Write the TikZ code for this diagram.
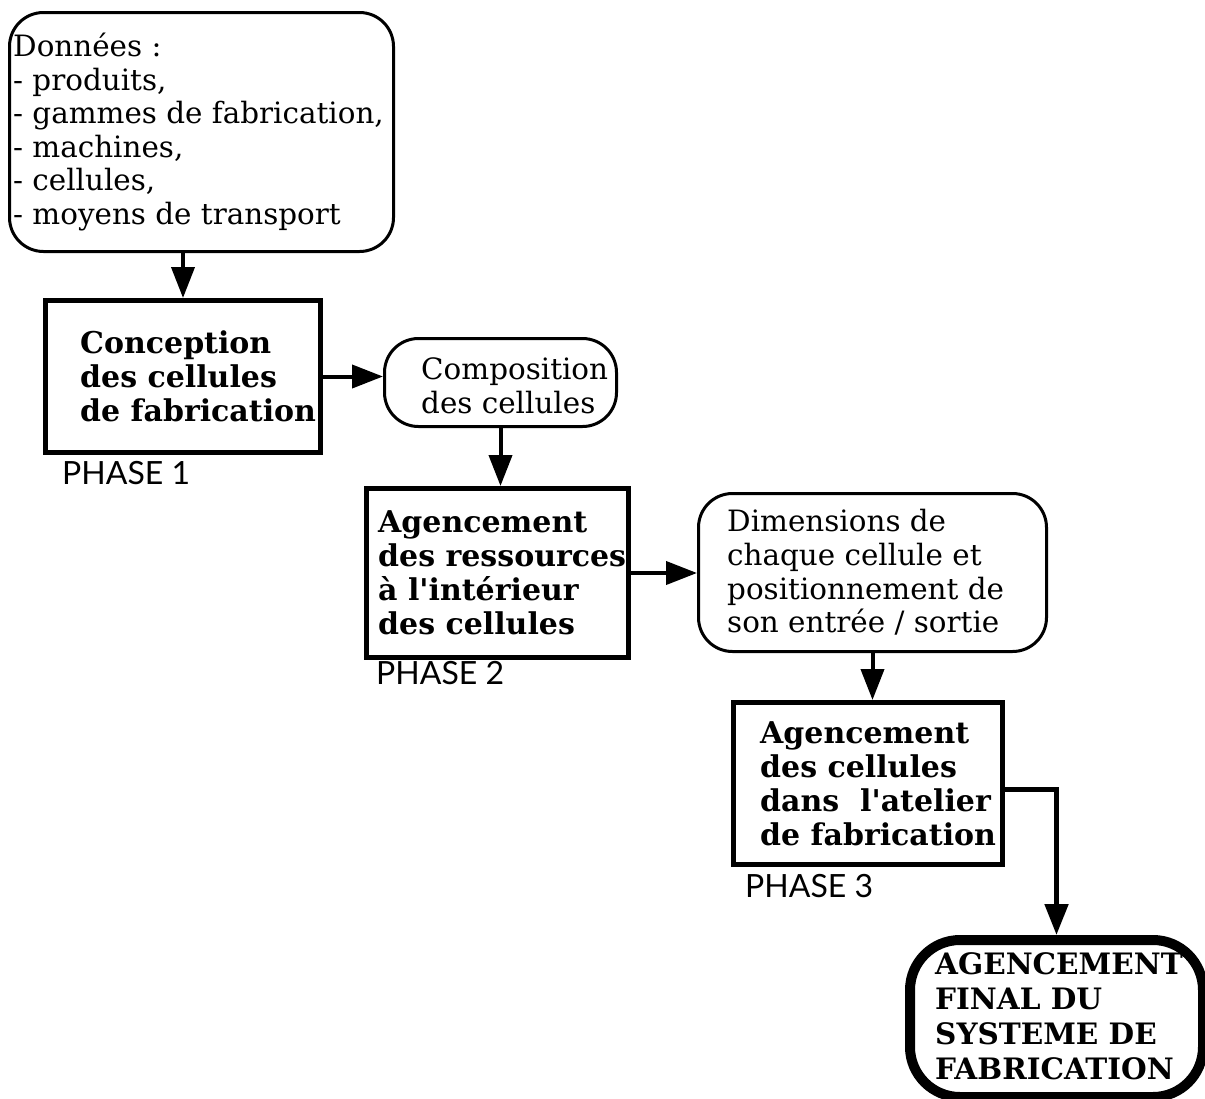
\documentclass[tikz,border=0pt]{standalone}
\usepackage{fontspec}
\newfontfamily\regfont{DejaVu Serif}
\newfontfamily\phasefont{Lato}
\usetikzlibrary{arrows.meta}

\tikzset{
  databox/.style={draw, line width=3pt, rounded corners=34pt, anchor=north west,
    inner sep=0pt},
  phasebox/.style={draw, line width=5pt, anchor=north west, inner sep=0pt},
  finalbox/.style={draw, line width=10pt, rounded corners=50pt, anchor=north west,
    inner sep=0pt},
  datatext/.style={anchor=west, align=left, inner sep=0pt,
    font=\regfont\fontsize{29.4pt}{33.6pt}\selectfont},
  phasetext/.style={anchor=west, align=left, inner sep=0pt,
    font=\regfont\bfseries\fontsize{30pt}{34pt}\selectfont},
  finaltext/.style={anchor=west, align=left, inner sep=0pt,
    font=\regfont\bfseries\fontsize{29.5pt}{35pt}\selectfont},
  phaselabel/.style={anchor=base west, inner sep=0pt,
    font=\phasefont\fontsize{32pt}{34pt}\selectfont},
  flow/.style={-{Triangle[length=31pt,width=23pt]}, line width=4pt}
}

\begin{document}
\begin{tikzpicture}[x=1pt,y=-1pt]
\useasboundingbox (0,0) rectangle (1205,1098);

% input data
\node[databox, minimum width=384pt, minimum height=239pt] (don) at (8,11) {};
\node[datatext] (donT) at ([xshift=5pt]don.west)
  {Données :\\- produits,\\- gammes de fabrication,\\- machines,\\- cellules,\\- moyens de transport};

% phase 1
\node[phasebox, minimum width=275pt, minimum height=152pt] (conc) at (43,298) {};
\node[phasetext] (concT) at ([xshift=37pt]conc.west)
  {Conception\\des cellules\\de fabrication};
\node[phaselabel] (ph1) at (62,484) {PHASE 1};

\node[databox, minimum width=232pt, minimum height=88pt] (comp) at (383,337) {};
\node[datatext] (compT) at ([xshift=38pt,yshift=-3pt]comp.west)
  {Composition\\des cellules};

% phase 2
\node[phasebox, minimum width=262pt, minimum height=169pt] (ag1) at (364,486) {};
\node[phasetext] (ag1T) at ([xshift=14pt]ag1.west)
  {Agencement\\des ressources\\à l\textquotesingle intérieur\\des cellules};
\node[phaselabel] (ph2) at (376,684) {PHASE 2};

\node[databox, minimum width=348pt, minimum height=158pt] (dim) at (697,492) {};
\node[datatext] (dimT) at ([xshift=30pt]dim.west)
  {Dimensions de\\chaque cellule et\\positionnement de\\son entrée / sortie};

% phase 3
\node[phasebox, minimum width=269pt, minimum height=162pt] (ag2) at (731,700) {};
\node[phasetext] (ag2T) at ([xshift=29pt]ag2.west)
  {Agencement\\des cellules\\dans\ \ l\textquotesingle atelier\\de fabrication};
\node[phaselabel] (ph3) at (745,897) {PHASE 3};

% final result
\node[finaltext] (finT) at (935,1016)
  {AGENCEMENT\\FINAL DU\\SYSTEME DE\\FABRICATION};
\node[finalbox, minimum width=293pt, minimum height=157pt] (fin) at (905,935) {};

% connectors
\draw[flow] (conc.north |- don.south) -- (conc.north);
\draw[flow] (conc.east) -- (conc.east -| comp.west);
\draw[flow] (comp.south) -- (comp.south |- ag1.north);
\draw[flow] (ag1.east) -- (ag1.east -| dim.west);
\draw[flow] (dim.south) -- (dim.south |- ag2.north);
\draw[flow, line width=5pt] ([yshift=-6pt]ag2.east) -| (fin.north);
\end{tikzpicture}
\end{document}
